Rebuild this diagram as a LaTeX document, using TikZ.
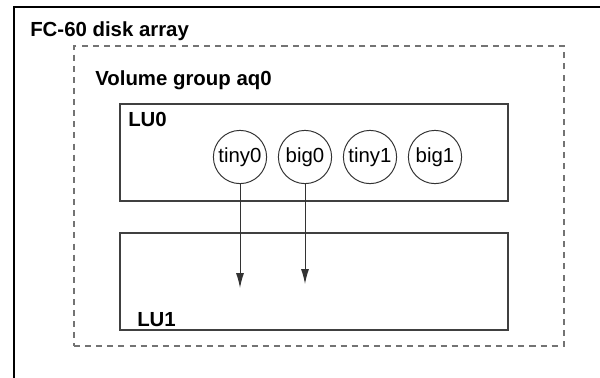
\documentclass[tikz,border=0pt]{standalone}
\usepackage{fontspec}
\setmainfont{Liberation Sans}
\usetikzlibrary{arrows.meta,fit}
\tikzset{
	arraybox/.style={draw=black, line width=1.4pt},
	vgbox/.style={draw=black!55, line width=1.1pt, dash pattern=on 4.3pt off 3.6pt, inner sep=0pt},
	lubox/.style={draw=black!75, line width=0.8pt, inner sep=0pt},
	disk/.style={circle, draw=black!80, line width=0.7pt, minimum size=1.33cm, inner sep=0pt},
	title/.style={anchor=base west, inner sep=0pt, font=\fontsize{14.5}{17}\selectfont\bfseries},
	flow/.style={draw=black!80, line width=0.7pt, -{Latex[length=0.375cm,width=0.2cm]}}
}

\begin{document}
\begin{tikzpicture}[x=0.025cm, y=-0.025cm, font=\fontsize{14.5}{17}\selectfont]
			\clip (0,0) rectangle (600,377);
			% disk array frame (runs off the page)
			\draw[arraybox] (14,7) rectangle (640,420);
			\node[title] (arrname) at (30,36) {FC-60 disk array};
			% volume group
			\node[vgbox, fit={(74,46) (564,346)}] (vg) {};
			\node[title] (vgname) at (95,85) {Volume group aq0};
			% logical units
			\node[lubox, fit={(120,104) (508,201)}] (lu0) {};
			\node[title] (lu0name) at (128,126) {LU0};
			\node[lubox, fit={(120,233) (508,330)}] (lu1) {};
			\node[title] (lu1name) at (137,326) {LU1};
			% volumes
			\node[disk] (tiny0) at (240,157) {tiny0};
			\node[disk] (big0) at (305,157) {big0};
			\node[disk] (tiny1) at (370,157) {tiny1};
			\node[disk] (big1) at (435,157) {big1};
			\coordinate (tiny0end) at (240,288);
			\coordinate (big0end) at (305,284);
			\draw[flow] (tiny0) -- (tiny0end);
			\draw[flow] (big0) -- (big0end);
		\end{tikzpicture}
\end{document}
